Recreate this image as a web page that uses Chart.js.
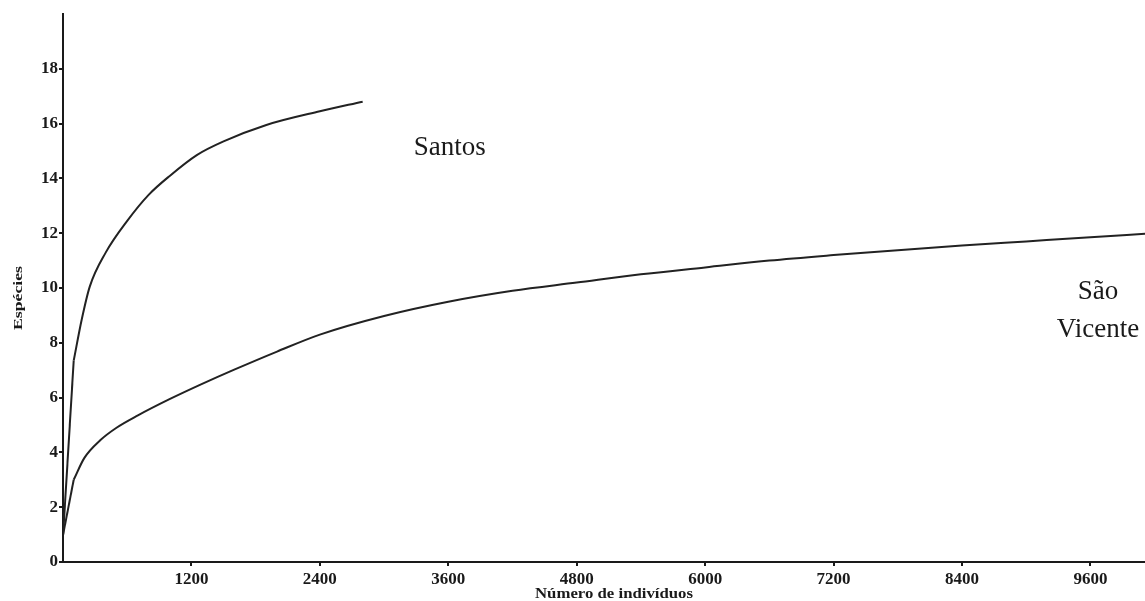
<!DOCTYPE html>
<html>
<head>
<meta charset="utf-8">
<script src="https://cdn.jsdelivr.net/npm/chart.js@4"></script>
<style>
  html, body { margin: 0; padding: 0; background: #fff; }
  #wrap { width: 1145px; height: 601px; }
</style>
</head>
<body>
<div id="wrap"><canvas id="rareChart"></canvas></div>
<script>
// Rarefaction curves (individuals -> species)
const santosX = [1, 100, 175, 250, 400, 600, 800, 1000, 1250, 1500, 1900, 2400, 2800];
const santosY = [1, 7.35, 8.85, 10.05, 11.3, 12.45, 13.4, 14.1, 14.85, 15.35, 15.95, 16.45, 16.8];

const vicenteX = [1, 100, 200, 350, 500, 700, 1000, 1300, 1600, 2000, 2400, 3000, 3600, 4200, 4800, 5400, 6000, 6600, 7200, 7800, 8400, 9000, 9600, 10110];
const vicenteY = [1, 3.0, 3.8, 4.45, 4.9, 5.35, 5.95, 6.5, 7.02, 7.68, 8.3, 8.98, 9.5, 9.9, 10.2, 10.5, 10.75, 11.0, 11.2, 11.38, 11.55, 11.7, 11.85, 11.98];

// Tick values
const xTicks = [1200, 2400, 3600, 4800, 6000, 7200, 8400, 9600];
const yTicks = [0, 2, 4, 6, 8, 10, 12, 14, 16, 18];

const xTitle = 'Número de indivíduos';
const yTitle = 'Espécies';

// Curve names written next to the lines (data coords)
const curveLabels = [
  { text: 'Santos', x: 3613, y: 14.86 },
  { text: 'São', x: 9671, y: 9.61 },
  { text: 'Vicente', x: 9671, y: 8.22 }
];

const toPoints = (xs, ys) => xs.map((x, i) => ({ x: x, y: ys[i] }));

const serif = '"Liberation Serif", "Times New Roman", serif';
const ink = '#1a1a1a';

// first step is a straight jump, the rest is smoothed
function curveSets(xs, ys) {
  const pts = toPoints(xs, ys);
  const base = { showLine: true, borderColor: '#222', borderWidth: 2, pointRadius: 0 };
  return [
    Object.assign({ data: pts.slice(0, 2), tension: 0 }, base),
    Object.assign({ data: pts.slice(1), cubicInterpolationMode: 'monotone' }, base)
  ];
}

// draws axis titles and curve names
const textPlugin = {
  id: 'textPlugin',
  afterDraw(chart) {
    const ctx = chart.ctx;
    const xs = chart.scales.x, ys = chart.scales.y;
    ctx.save();
    ctx.fillStyle = ink;

    ctx.font = '27px ' + serif;
    ctx.textAlign = 'center';
    ctx.textBaseline = 'alphabetic';
    curveLabels.forEach(l => {
      ctx.fillText(l.text, xs.getPixelForValue(l.x), ys.getPixelForValue(l.y));
    });

    // x title, a bit stretched like the original
    ctx.font = 'bold 15px ' + serif;
    let w = ctx.measureText(xTitle).width;
    ctx.save();
    ctx.translate(614, 598);
    ctx.scale(158 / w, 1);
    ctx.fillText(xTitle, 0, 0);
    ctx.restore();

    // y title, rotated
    ctx.font = 'bold 12px ' + serif;
    w = ctx.measureText(yTitle).width;
    ctx.save();
    ctx.translate(22, 298);
    ctx.rotate(-Math.PI / 2);
    ctx.scale(64 / w, 1);
    ctx.fillText(yTitle, 0, 0);
    ctx.restore();

    ctx.restore();
  }
};

const ctx = document.getElementById('rareChart').getContext('2d');

const rareChart = new Chart(ctx, {
  type: 'scatter',
  data: {
    datasets: curveSets(santosX, santosY).concat(curveSets(vicenteX, vicenteY))
  },
  options: {
    responsive: true,
    maintainAspectRatio: false,
    animation: false,
    layout: {
      padding: { top: 14, right: 0, left: 0, bottom: 0 }
    },
    plugins: {
      legend: { display: false },
      tooltip: { enabled: false }
    },
    scales: {
      x: {
        type: 'linear',
        min: 0,
        max: 10110,
        afterBuildTicks: s => { s.ticks = xTicks.map(v => ({ value: v })); },
        afterFit: s => { s.height = 39; },
        ticks: {
          color: ink,
          padding: 3,
          maxRotation: 0,
          callback: v => String(v),
          font: { family: serif, size: 17, weight: 'bold' }
        },
        grid: {
          drawOnChartArea: false,
          drawTicks: true,
          tickLength: 4,
          color: ink,
          lineWidth: 2
        },
        border: { display: true, color: ink, width: 2 }
      },
      y: {
        min: 0,
        max: 20,
        afterBuildTicks: s => { s.ticks = yTicks.map(v => ({ value: v })); },
        afterFit: s => { s.width = 63; },
        ticks: {
          color: ink,
          padding: 1,
          callback: v => String(v),
          font: { family: serif, size: 17, weight: 'bold' }
        },
        grid: {
          drawOnChartArea: false,
          drawTicks: true,
          tickLength: 4,
          color: ink,
          lineWidth: 2
        },
        border: { display: true, color: ink, width: 2 }
      }
    }
  },
  plugins: [textPlugin]
});
</script>
</body>
</html>
